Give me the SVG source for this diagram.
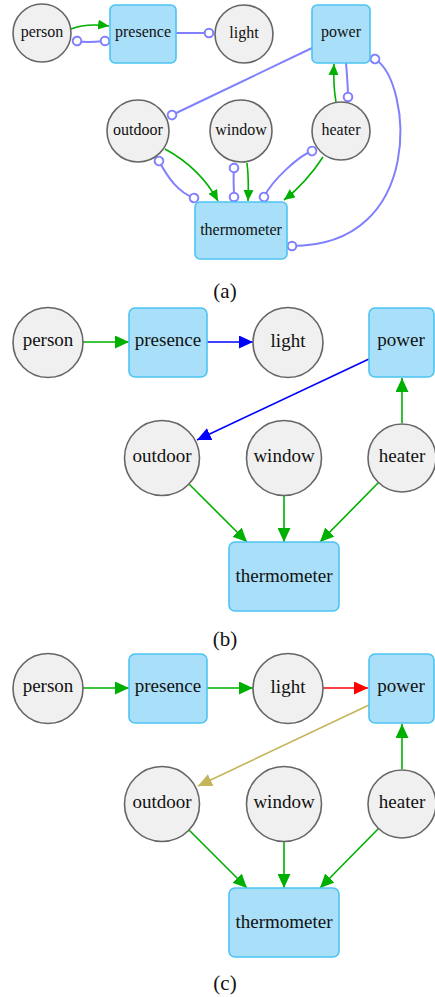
<svg xmlns="http://www.w3.org/2000/svg" width="435" height="997" viewBox="0 0 435 997">
<defs>
<style>
.c{fill:#f0f0f0;stroke:#666;stroke-width:1.6}
.r{fill:#a9dff8;stroke:#4cc4f2;stroke-width:1.6}
text{fill:#111;text-anchor:middle;font-family:Liberation Serif, DejaVu Serif, serif}
.s{font-size:16px}
.b{font-size:19px}
.lab{font-size:21px}
.lv{fill:none;stroke:#8080ff;stroke-width:2}
.g{fill:none;stroke:#00b000;stroke-width:1.6}
.bl{fill:none;stroke:#0000ff;stroke-width:1.6}
.rd{fill:none;stroke:#ff0000;stroke-width:1.6}
.ol{fill:none;stroke:#c4b55a;stroke-width:1.6}
</style>
<marker id="ga" markerUnits="userSpaceOnUse" markerWidth="12" markerHeight="10" refX="11" refY="5" orient="auto"><path d="M0,0 L11,5 L0,10 z" fill="#00b000"/></marker>
<marker id="gA" markerUnits="userSpaceOnUse" markerWidth="15" markerHeight="13" refX="14" refY="6.5" orient="auto"><path d="M0,0 L14,6.5 L0,13 z" fill="#00b000"/></marker>
<marker id="bA" markerUnits="userSpaceOnUse" markerWidth="15" markerHeight="13" refX="14" refY="6.5" orient="auto"><path d="M0,0 L14,6.5 L0,13 z" fill="#0000ff"/></marker>
<marker id="rA" markerUnits="userSpaceOnUse" markerWidth="15" markerHeight="13" refX="14" refY="6.5" orient="auto"><path d="M0,0 L14,6.5 L0,13 z" fill="#ff0000"/></marker>
<marker id="oA" markerUnits="userSpaceOnUse" markerWidth="15" markerHeight="13" refX="14" refY="6.5" orient="auto"><path d="M0,0 L14,6.5 L0,13 z" fill="#c4b55a"/></marker>
<marker id="o" markerUnits="userSpaceOnUse" markerWidth="12" markerHeight="12" refX="6" refY="6" orient="auto"><circle cx="6" cy="6" r="4.3" fill="#fff" stroke="#8080ff" stroke-width="2"/></marker>
</defs>

<g id="connectors-a">
<path class="g" d="M71,29 Q86,23 109,26" marker-end="url(#ga)"/>
<path class="lv" d="M77,41 C86,43 95,42 105,41" marker-start="url(#o)" marker-end="url(#o)"/>
<path class="lv" d="M176,33 L209,33" marker-end="url(#o)"/>
<path class="lv" d="M312,48 L172,115" marker-end="url(#o)"/>
<path class="lv" d="M346,63 C347,75 348,86 348,97" marker-end="url(#o)"/>
<path class="g" d="M336,102 Q333,85 334,64" marker-end="url(#ga)"/>
<path class="lv" d="M375,59 C412,82 426,246 292,246" marker-start="url(#o)" marker-end="url(#o)"/>
<path class="g" d="M165,149 Q200,168 218,201" marker-end="url(#ga)"/>
<path class="lv" d="M159,161 C168,178 178,192 194,198" marker-start="url(#o)" marker-end="url(#o)"/>
<path class="g" d="M247,163 Q249,180 248,201" marker-end="url(#ga)"/>
<path class="lv" d="M234,168 C233,178 234,188 234,197" marker-start="url(#o)" marker-end="url(#o)"/>
<path class="g" d="M323,157 Q306,183 284,200" marker-end="url(#ga)"/>
<path class="lv" d="M312,151 C300,155 272,180 264,197" marker-start="url(#o)" marker-end="url(#o)"/>
</g>

<g id="a-person"><circle class="c" cx="42" cy="33" r="29"/><text class="s" x="42" y="37">person</text></g>
<g id="a-presence"><rect class="r" x="110" y="5" width="66" height="58" rx="5"/><text class="s" x="143" y="37">presence</text></g>
<g id="a-light"><circle class="c" cx="244" cy="34" r="29"/><text class="s" x="244" y="38">light</text></g>
<g id="a-power"><rect class="r" x="312" y="5" width="58" height="58" rx="5"/><text class="s" x="341" y="37">power</text></g>
<g id="a-outdoor"><circle class="c" cx="138" cy="131" r="31"/><text class="s" x="138" y="135">outdoor</text></g>
<g id="a-window"><circle class="c" cx="241" cy="131" r="31"/><text class="s" x="241" y="135">window</text></g>
<g id="a-heater"><circle class="c" cx="341" cy="131" r="29"/><text class="s" x="341" y="135">heater</text></g>
<g id="a-thermometer"><rect class="r" x="195" y="202" width="92" height="57" rx="5"/><text class="s" x="241" y="235">thermometer</text></g>
<text class="lab" x="225" y="298">(a)</text>

<g id="connectors-b">
<path class="g" d="M83,342 L129,342" marker-end="url(#gA)"/>
<path class="bl" d="M207,342 L253,342" marker-end="url(#bA)"/>
<path class="bl" d="M369,359 L197,440" marker-end="url(#bA)"/>
<path class="g" d="M402,423 L402,378" marker-end="url(#gA)"/>
<path class="g" d="M189,484 L247,542" marker-end="url(#gA)"/>
<path class="g" d="M284,495 L284,542" marker-end="url(#gA)"/>
<path class="g" d="M379,482 L320,542" marker-end="url(#gA)"/>
</g>
<g id="b-person"><circle class="c" cx="48" cy="342.5" r="35"/><text class="b" x="48" y="346">person</text></g>
<g id="b-presence"><rect class="r" x="129" y="308" width="78" height="69" rx="6"/><text class="b" x="168" y="346">presence</text></g>
<g id="b-light"><circle class="c" cx="288" cy="342.5" r="35"/><text class="b" x="288" y="347">light</text></g>
<g id="b-power"><rect class="r" x="369" y="308" width="65" height="69" rx="6"/><text class="b" x="401" y="346">power</text></g>
<g id="b-outdoor"><circle class="c" cx="162" cy="458" r="37.5"/><text class="b" x="162" y="462">outdoor</text></g>
<g id="b-window"><circle class="c" cx="284" cy="458" r="37.5"/><text class="b" x="284" y="462">window</text></g>
<g id="b-heater"><circle class="c" cx="402" cy="458" r="34"/><text class="b" x="402" y="462">heater</text></g>
<g id="b-thermometer"><rect class="r" x="229" y="542" width="110" height="69" rx="6"/><text class="b" x="284" y="582">thermometer</text></g>
<text class="lab" x="225" y="646">(b)</text>

<g id="connectors-c">
<path class="g" d="M83,688 L129,688" marker-end="url(#gA)"/>
<path class="g" d="M207,688 L253,688" marker-end="url(#gA)"/>
<path class="rd" d="M323,688 L368,688" marker-end="url(#rA)"/>
<path class="ol" d="M369,705 L198,786" marker-end="url(#oA)"/>
<path class="g" d="M402,769 L402,724" marker-end="url(#gA)"/>
<path class="g" d="M189,830 L247,888" marker-end="url(#gA)"/>
<path class="g" d="M284,841 L284,888" marker-end="url(#gA)"/>
<path class="g" d="M379,828 L320,888" marker-end="url(#gA)"/>
</g>
<g id="c-person"><circle class="c" cx="48" cy="688.5" r="35"/><text class="b" x="48" y="692">person</text></g>
<g id="c-presence"><rect class="r" x="129" y="654" width="78" height="69" rx="6"/><text class="b" x="168" y="692">presence</text></g>
<g id="c-light"><circle class="c" cx="288" cy="688.5" r="35"/><text class="b" x="288" y="693">light</text></g>
<g id="c-power"><rect class="r" x="369" y="654" width="65" height="69" rx="6"/><text class="b" x="401" y="692">power</text></g>
<g id="c-outdoor"><circle class="c" cx="162" cy="804" r="37.5"/><text class="b" x="162" y="808">outdoor</text></g>
<g id="c-window"><circle class="c" cx="284" cy="804" r="37.5"/><text class="b" x="284" y="808">window</text></g>
<g id="c-heater"><circle class="c" cx="402" cy="804" r="34"/><text class="b" x="402" y="808">heater</text></g>
<g id="c-thermometer"><rect class="r" x="229" y="888" width="110" height="69" rx="6"/><text class="b" x="284" y="928">thermometer</text></g>
<text class="lab" x="225" y="990">(c)</text>
</svg>
